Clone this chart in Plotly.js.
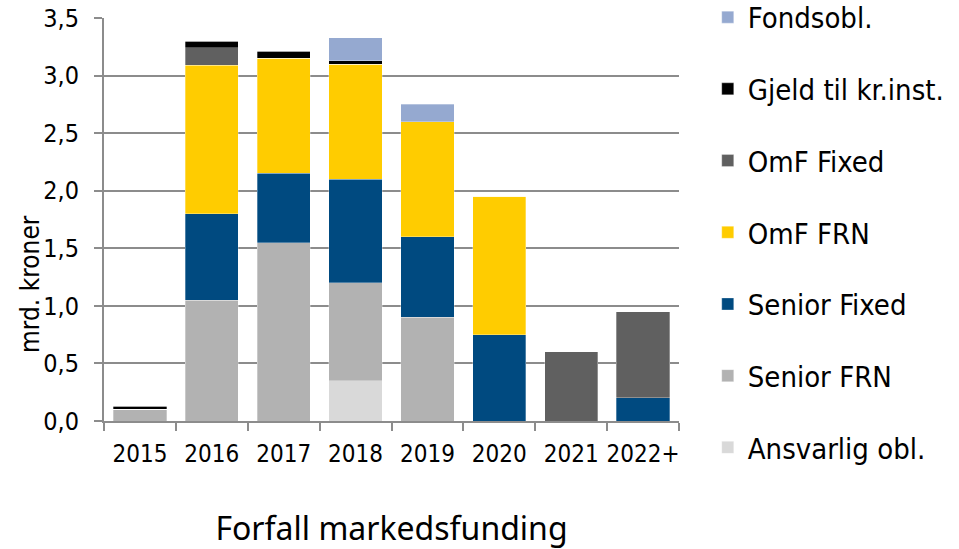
<!DOCTYPE html>
<html><head><meta charset="utf-8">
<script src="https://cdn.plot.ly/plotly-3.0.1.min.js"></script>
<style>body{margin:0;background:#fff}#c{width:959px;height:549px}</style>
</head><body><div id="c"></div>
<script>
const categories = ["2015","2016","2017","2018","2019","2020","2021","2022+"];
const ansvarlig   = [0,    0,    0,    0.35, 0,    0,    0,    0];
const seniorFRN   = [0.10, 1.05, 1.55, 0.85, 0.90, 0,    0,    0];
const seniorFixed = [0,    0.75, 0.60, 0.90, 0.70, 0.75, 0,    0.20];
const omfFRN      = [0,    1.29, 1.00, 1.00, 1.00, 1.20, 0,    0];
const omfFixed    = [0,    0.15, 0,    0,    0,    0,    0.60, 0.75];
const gjeld       = [0.03, 0.06, 0.06, 0.03, 0,    0,    0,    0];
const fondsobl    = [0,    0,    0,    0.20, 0.15, 0,    0,    0];

const seriesNames = ["Ansvarlig obl.","Senior FRN","Senior Fixed","OmF FRN","OmF Fixed","Gjeld til kr.inst.","Fondsobl."];
const seriesData = [ansvarlig, seniorFRN, seniorFixed, omfFRN, omfFixed, gjeld, fondsobl];
const colors = ["#D9D9D9","#B2B2B2","#004A80","#FFCC00","#606060","#000000","#95A9D0"];
const yTitle = "mrd. kroner";
const xTitle = "Forfall markedsfunding";

const FONT = "DejaVu Sans Condensed, DejaVu Sans, sans-serif";
const traces = seriesNames.map((n,i)=>({
  type:"bar", name:n, x:categories, y:seriesData[i], legendgroup:"g"+i,
  legendrank: 100 - i,
  marker:{color:colors[i], line:{color:"rgba(255,255,255,0.6)", width:0.5}},
  hoverinfo:"x+y+name"
}));

const layout = {
  width:959, height:549,
  margin:{l:104, r:280, t:18, b:128, autoexpand:false},
  barmode:"stack", bargap:0.26,
  paper_bgcolor:"#fff", plot_bgcolor:"#fff",
  font:{family:FONT, color:"#000", size:22},
  xaxis:{
    type:"category", showline:true, linecolor:"#8c8c8c", linewidth:2,
    ticks:"outside", tickson:"boundaries", ticklen:8, tickcolor:"#8c8c8c", tickwidth:2,
    tickfont:{size:24}, showgrid:false, tickangle:0, automargin:false, ticklabelstandoff:10,
    title:{text:xTitle, font:{family:"Noto Sans, sans-serif", size:32}, standoff:58}
  },
  yaxis:{
    range:[0,3.5], dtick:0.5, tickformat:".1f", automargin:false,
    showline:true, linecolor:"#8c8c8c", linewidth:2,
    ticks:"outside", ticklen:8, tickcolor:"#8c8c8c", tickwidth:2,
    showgrid:true, gridcolor:"#8c8c8c", gridwidth:2,
    tickfont:{size:25}, zeroline:false, ticklabelstandoff:10
  },
  annotations:[{
    text:yTitle, xref:"paper", yref:"paper", x:-0.1287, y:0.34,
    xanchor:"center", yanchor:"middle", textangle:-90, showarrow:false,
    font:{size:26}
  }],
  separators:",.",
  legend:{
    x:1.05, xanchor:"left", y:1.065, yanchor:"top",
    traceorder:"grouped", tracegroupgap:31, maxheight:1,
    font:{size:29}
  }
};
Plotly.newPlot("c", traces, layout, {displayModeBar:false, staticPlot:true});
</script></body></html>
